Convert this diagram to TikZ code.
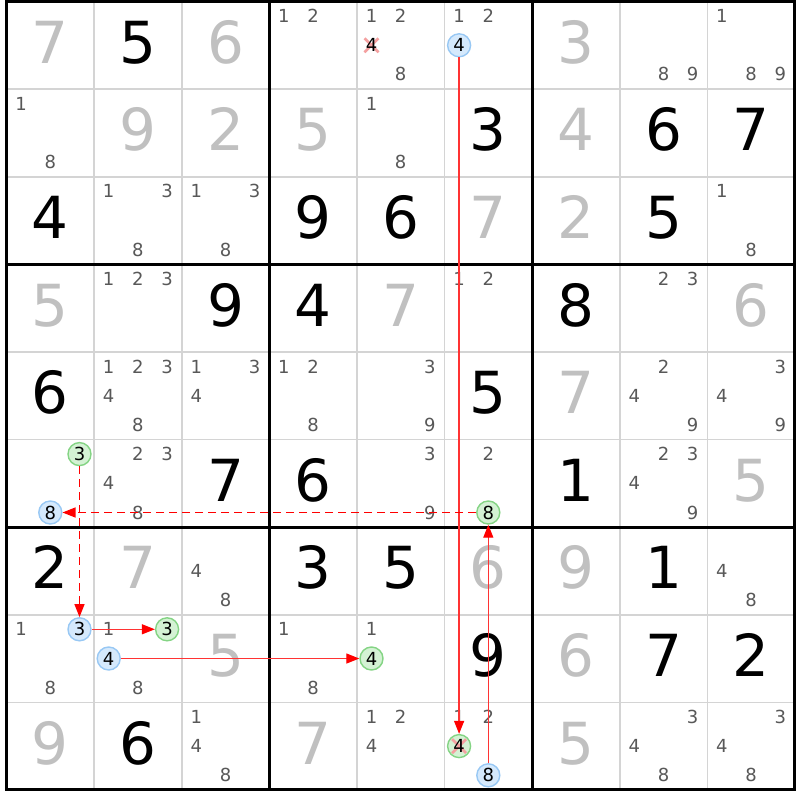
\documentclass[tikz,border=0pt]{standalone}
\usepackage{fontspec}
\setmainfont{DejaVu Sans}
\usetikzlibrary{arrows.meta}
\definecolor{bigGray}{HTML}{C0C0C0}
\definecolor{candGray}{HTML}{585858}
\definecolor{gridGray}{HTML}{D4D4D4}
\definecolor{blueFill}{HTML}{D5E9FC}
\definecolor{blueLine}{HTML}{98C8F4}
\definecolor{greenFill}{HTML}{D4F2D4}
\definecolor{greenLine}{HTML}{84D484}
\definecolor{crossPink}{HTML}{F4A0A0}
\newcommand{\Gv}[3]{\node[givenD] (g#1#2) at ({6.5+87.6*(#2-0.5)},{1.5+87.6*(#1-0.5)+18}) {#3};}
\newcommand{\Sv}[3]{\node[solvedD] (s#1#2) at ({6.5+87.6*(#2-0.5)},{1.5+87.6*(#1-0.5)+18}) {#3};}
\newcommand{\Cand}[3]{\foreach \cn in {#3}{\node[cand] (k#1#2\cn) at ({6.5+87.6*(#2-1)+29.2*(mod(\cn-1,3)+0.5)},{1.5+87.6*(#1-1)+29.2*(floor((\cn-1)/3)+0.5)+6.5}) {\cn};}}
\newcommand{\Circ}[5]{\node[#4] (#5) at ({6.5+87.6*(#2-1)+29.2*(mod(#3-1,3)+0.5)},{1.5+87.6*(#1-1)+29.2*(floor((#3-1)/3)+0.5)}) {#3};}
\begin{document}
\begin{tikzpicture}[x=1pt,y=-1pt,
  bigdigit/.style={anchor=base,inner sep=0pt,font=\fontsize{58}{58}\selectfont},
  givenD/.style={bigdigit,text=black},
  solvedD/.style={bigdigit,text=bigGray},
  cand/.style={anchor=base,inner sep=0pt,font=\fontsize{18}{18}\selectfont,text=candGray},
  mark base/.style={circle,minimum size=23pt,inner sep=0pt,line width=1.4pt,font=\fontsize{18}{18}\selectfont,text=black},
  bluec/.style={mark base,draw=blueLine,fill=blueFill},
  greenc/.style={mark base,draw=greenLine,fill=greenFill},
  crossed/.style={path picture={\draw[crossPink,line width=2.6pt]
      ([shift={(-7,-7)}]path picture bounding box.center) -- ([shift={(7,7)}]path picture bounding box.center)
      ([shift={(-7,7)}]path picture bounding box.center) -- ([shift={(7,-7)}]path picture bounding box.center);}},
  plainx/.style={mark base,crossed},
  greenx/.style={greenc,crossed},
  thingrid/.style={gridGray,line width=1.6pt},
  thickgrid/.style={black,line width=3pt},
  solidarr/.style={red!80,line width=1.3pt,-{Triangle[length=13pt,width=10pt,color=red]}},
  dasharr/.style={red,line width=1.3pt,dash pattern=on 8pt off 5pt,-{Triangle[length=13pt,width=10pt,color=red]}}
]
\useasboundingbox (0,0) rectangle (800,800);
\fill[white] (0,0) rectangle (800,800);
% grid
\foreach \i in {1,2,4,5,7,8}{
  \draw[thingrid] ({6.5+87.6*\i},1.5) -- ({6.5+87.6*\i},789.9);
  \draw[thingrid] (6.5,{1.5+87.6*\i}) -- (794.9,{1.5+87.6*\i});
}
\foreach \i in {0,3,6,9}{
  \draw[thickgrid] ({6.5+87.6*\i},0) -- ({6.5+87.6*\i},791.4);
  \draw[thickgrid] (5,{1.5+87.6*\i}) -- (796.4,{1.5+87.6*\i});
}
% row 1
\Sv{1}{1}{7} \Gv{1}{2}{5} \Sv{1}{3}{6} \Cand{1}{4}{1,2} \Cand{1}{5}{1,2,8}
\Circ{1}{5}{4}{plainx}{x154}
\Cand{1}{6}{1,2} \Circ{1}{6}{4}{bluec}{a164}
\Sv{1}{7}{3} \Cand{1}{8}{8,9} \Cand{1}{9}{1,8,9}
% row 2
\Cand{2}{1}{1,8} \Sv{2}{2}{9} \Sv{2}{3}{2} \Sv{2}{4}{5} \Cand{2}{5}{1,8} \Gv{2}{6}{3} \Sv{2}{7}{4} \Gv{2}{8}{6} \Gv{2}{9}{7}
% row 3
\Gv{3}{1}{4} \Cand{3}{2}{1,3,8} \Cand{3}{3}{1,3,8} \Gv{3}{4}{9} \Gv{3}{5}{6} \Sv{3}{6}{7} \Sv{3}{7}{2} \Gv{3}{8}{5} \Cand{3}{9}{1,8}
% row 4
\Sv{4}{1}{5} \Cand{4}{2}{1,2,3} \Gv{4}{3}{9} \Gv{4}{4}{4} \Sv{4}{5}{7} \Cand{4}{6}{1,2} \Gv{4}{7}{8} \Cand{4}{8}{2,3} \Sv{4}{9}{6}
% row 5
\Gv{5}{1}{6} \Cand{5}{2}{1,2,3,4,8} \Cand{5}{3}{1,3,4} \Cand{5}{4}{1,2,8} \Cand{5}{5}{3,9} \Gv{5}{6}{5} \Sv{5}{7}{7} \Cand{5}{8}{2,4,9} \Cand{5}{9}{3,4,9}
% row 6
\Circ{6}{1}{3}{greenc}{a613} \Circ{6}{1}{8}{bluec}{a618}
\Cand{6}{2}{2,3,4,8} \Gv{6}{3}{7} \Gv{6}{4}{6} \Cand{6}{5}{3,9} \Cand{6}{6}{2} \Circ{6}{6}{8}{greenc}{a668}
\Gv{6}{7}{1} \Cand{6}{8}{2,3,4,9} \Sv{6}{9}{5}
% row 7
\Gv{7}{1}{2} \Sv{7}{2}{7} \Cand{7}{3}{4,8} \Gv{7}{4}{3} \Gv{7}{5}{5} \Sv{7}{6}{6} \Sv{7}{7}{9} \Gv{7}{8}{1} \Cand{7}{9}{4,8}
% row 8
\Cand{8}{1}{1,8} \Circ{8}{1}{3}{bluec}{a813}
\Cand{8}{2}{1,8} \Circ{8}{2}{3}{greenc}{a823} \Circ{8}{2}{4}{bluec}{a824}
\Sv{8}{3}{5} \Cand{8}{4}{1,8} \Cand{8}{5}{1} \Circ{8}{5}{4}{greenc}{a854}
\Gv{8}{6}{9} \Sv{8}{7}{6} \Gv{8}{8}{7} \Gv{8}{9}{2}
% row 9
\Sv{9}{1}{9} \Gv{9}{2}{6} \Cand{9}{3}{1,4,8} \Sv{9}{4}{7} \Cand{9}{5}{1,2,4}
\Cand{9}{6}{1,2} \Circ{9}{6}{4}{greenx}{a964} \Circ{9}{6}{8}{bluec}{a968}
\Sv{9}{7}{5} \Cand{9}{8}{3,4,8} \Cand{9}{9}{3,4,8}
% chain
\draw[solidarr] (a164) -- (a964);
\draw[solidarr] (a968) -- (a668);
\draw[dasharr] (a668) -- (a618);
\draw[dasharr] (a613) -- (a813);
\draw[solidarr] (a813) -- (a823);
\draw[solidarr] (a824) -- (a854);
\end{tikzpicture}
\end{document}
